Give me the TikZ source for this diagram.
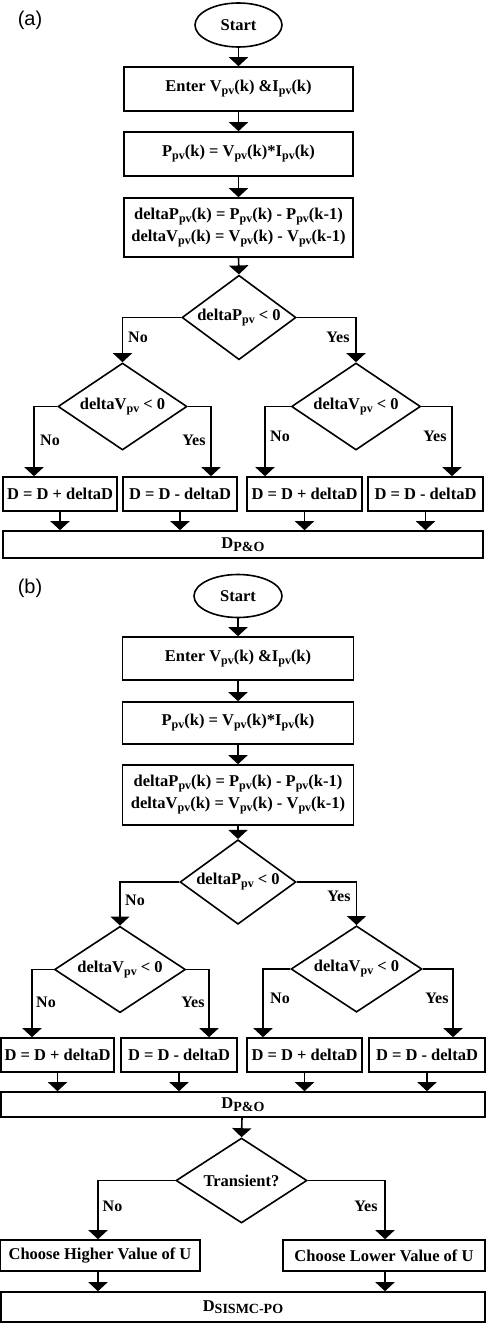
\documentclass[tikz,border=0pt]{standalone}
\usepackage{fontspec}
\setmainfont{Liberation Serif}
\newfontfamily\labfont{Liberation Sans}
\usetikzlibrary{shapes.geometric,arrows.meta}
\newcommand\sbs[1]{\raisebox{-3pt}{\fontsize{12}{12}\selectfont #1}}
\newcommand\sbig[1]{\raisebox{-2.5pt}{\fontsize{14}{14}\selectfont #1}}
\begin{document}
\begin{tikzpicture}[x=1pt,y=-1pt,
  every node/.style={font=\fontsize{16.5}{22}\selectfont\bfseries},
  box/.style={draw,rectangle,line width=1.6pt,inner sep=0pt,align=center},
  term/.style={draw,ellipse,line width=1.6pt,inner sep=0pt},
  dec/.style={draw,diamond,line width=1.6pt,inner sep=-4pt},
  arr/.style={line width=1.6pt,-{Triangle[width=19pt,length=9pt]}},
  lbl/.style={font=\fontsize{16}{19}\selectfont\bfseries},
  figlab/.style={font=\fontsize{20}{22}\labfont}]
\useasboundingbox (0,0) rectangle (487,1324);

% ---------------- (a) ----------------
\node[figlab] (la) at (30,20) {(a)};
\node[term,minimum width=87pt,minimum height=44pt] (sA) at (238.5,25) {Start};
\node[box,minimum width=229pt,minimum height=44pt] (e1A) at (238.5,89) {Enter V\sbs{pv}(k) \&I\sbs{pv}(k)};
\node[box,minimum width=229pt,minimum height=44pt] (e2A) at (238.5,154) {P\sbs{pv}(k) = V\sbs{pv}(k)*I\sbs{pv}(k)};
\node[box,minimum width=229pt,minimum height=59pt] (e3A) at (238.5,227.5) {deltaP\sbs{pv}(k) = P\sbs{pv}(k) - P\sbs{pv}(k-1)\\deltaV\sbs{pv}(k) = V\sbs{pv}(k) - V\sbs{pv}(k-1)};
\node[dec,minimum width=114pt,minimum height=77pt] (dA) at (239,317.5) {deltaP\sbs{pv} < 0};
\node[dec,minimum width=129pt,minimum height=87pt] (dLA) at (122.5,406.5) {deltaV\sbs{pv} < 0};
\node[dec,minimum width=129pt,minimum height=87pt] (dRA) at (356,406.5) {deltaV\sbs{pv} < 0};
\node[box,minimum width=114pt,minimum height=34pt] (bAa) at (60,494) {D = D + deltaD};
\node[box,minimum width=114pt,minimum height=34pt] (bBa) at (180,494) {D = D - deltaD};
\node[box,minimum width=115pt,minimum height=34pt] (bCa) at (304.5,494) {D = D + deltaD};
\node[box,minimum width=115pt,minimum height=34pt] (bDa) at (425.5,494) {D = D - deltaD};
\node[box,minimum width=480pt,minimum height=27pt] (pA) at (243,544.5) {D\sbig{P\&O}};

\node[lbl] (nA1) at (138,337) {No};
\node[lbl] (yA1) at (338,337) {Yes};
\node[lbl] (nA2) at (50,440) {No};
\node[lbl] (yA2) at (194,440) {Yes};
\node[lbl] (nA3) at (280,436) {No};
\node[lbl] (yA3) at (435,436) {Yes};

\draw[arr] (sA.south) -- (e1A.north);
\draw[arr] (e1A.south) -- (e2A.north);
\draw[arr] (e2A.south) -- (e3A.north);
\draw[arr] (e3A.south) -- (dA.north);
\draw[arr] (dA.west) -| (dLA.north);
\draw[arr] (dA.east) -| (dRA.north);
\draw[arr] (dLA.west) -| ([xshift=-26pt]bAa.north);
\draw[arr] (dLA.east) -| ([xshift=31pt]bBa.north);
\draw[arr] (dRA.west) -| ([xshift=-39.5pt]bCa.north);
\draw[arr] (dRA.east) -| ([xshift=26.5pt]bDa.north);
\foreach \b in {bAa,bBa,bCa,bDa}
  \draw[arr] (\b.south) -- (\b.south |- pA.north);

% ---------------- (b) ----------------
\node[figlab] (lb) at (30,588) {(b)};
\node[term,minimum width=88pt,minimum height=43pt] (sB) at (238,596) {Start};
\node[box,minimum width=231pt,minimum height=43pt] (e1B) at (238,658.5) {Enter V\sbs{pv}(k) \&I\sbs{pv}(k)};
\node[box,minimum width=231pt,minimum height=42pt] (e2B) at (238,723) {P\sbs{pv}(k) = V\sbs{pv}(k)*I\sbs{pv}(k)};
\node[box,minimum width=231pt,minimum height=60pt] (e3B) at (238,795) {deltaP\sbs{pv}(k) = P\sbs{pv}(k) - P\sbs{pv}(k-1)\\deltaV\sbs{pv}(k) = V\sbs{pv}(k) - V\sbs{pv}(k-1)};
\node[dec,minimum width=116pt,minimum height=76pt] (dB) at (238,882) {deltaP\sbs{pv} < 0};
\node[dec,minimum width=131pt,minimum height=84pt] (dLB) at (120,969.5) {deltaV\sbs{pv} < 0};
\node[dec,minimum width=131pt,minimum height=84pt] (dRB) at (356.5,969) {deltaV\sbs{pv} < 0};
\node[box,minimum width=113pt,minimum height=34pt] (bAb) at (57.5,1055) {D = D + deltaD};
\node[box,minimum width=116pt,minimum height=34pt] (bBb) at (179,1055) {D = D - deltaD};
\node[box,minimum width=115pt,minimum height=34pt] (bCb) at (304.5,1055) {D = D + deltaD};
\node[box,minimum width=116pt,minimum height=34pt] (bDb) at (427,1055) {D = D - deltaD};
\node[box,minimum width=484pt,minimum height=25pt] (pB) at (243,1104.5) {D\sbig{P\&O}};
\node[dec,minimum width=131pt,minimum height=85pt] (dT) at (241.5,1180.5) {Transient?};
\node[box,minimum width=200pt,minimum height=31pt] (cH) at (100,1255.5) {Choose Higher Value of U};
\node[box,minimum width=202pt,minimum height=31pt] (cL) at (384,1255.5) {Choose Lower Value of U};
\node[box,minimum width=484pt,minimum height=30pt] (fB) at (243,1307) {D\sbig{SISMC-PO}};

\node[lbl] (nB1) at (135,900) {No};
\node[lbl] (yB1) at (339,896) {Yes};
\node[lbl] (nB2) at (46,1002) {No};
\node[lbl] (yB2) at (193,1002) {Yes};
\node[lbl] (nB3) at (280,998) {No};
\node[lbl] (yB3) at (437,998) {Yes};
\node[lbl] (nB4) at (112.5,1206) {No};
\node[lbl] (yB4) at (366,1206) {Yes};

\draw[arr] (sB.south) -- (e1B.north);
\draw[arr] (e1B.south) -- (e2B.north);
\draw[arr] (e2B.south) -- (e3B.north);
\draw[arr] (e3B.south) -- (dB.north);
\draw[arr] (dB.west) -| (dLB.north);
\draw[arr] (dB.east) -| (dRB.north);
\draw[arr] (dLB.west) -| ([xshift=-25.5pt]bAb.north);
\draw[arr] (dLB.east) -| ([xshift=30pt]bBb.north);
\draw[arr] (dRB.west) -| ([xshift=-41.5pt]bCb.north);
\draw[arr] (dRB.east) -| ([xshift=26pt]bDb.north);
\foreach \b in {bAb,bBb,bCb,bDb}
  \draw[arr] (\b.south) -- (\b.south |- pB.north);
\draw[arr] ([xshift=-1pt]pB.south) -- (dT.north);
\draw[arr] (dT.west) -| ([xshift=-2pt]cH.north);
\draw[arr] (dT.east) -| ([xshift=1pt]cL.north);
\draw[arr] ([xshift=-2pt]cH.south) -- ([xshift=-2pt]cH.south |- fB.north);
\draw[arr] ([xshift=1pt]cL.south) -- ([xshift=1pt]cL.south |- fB.north);
\end{tikzpicture}
\end{document}
